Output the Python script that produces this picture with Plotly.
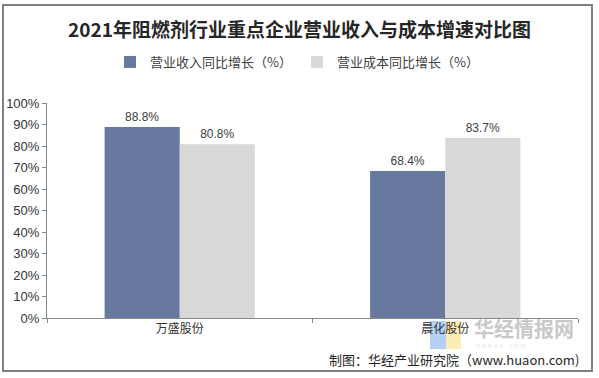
import plotly.graph_objects as go

categories = ["万盛股份", "晨化股份"]
series_names = ["营业收入同比增长（%）", "营业成本同比增长（%）"]
revenue_growth = [88.8, 68.4]
cost_growth = [80.8, 83.7]
y_ticks = [0, 10, 20, 30, 40, 50, 60, 70, 80, 90, 100]
y_tick_labels = [f"{v}%" for v in y_ticks]

W, H = 599, 378
L, R, T, B = 47, 21, 103, 60
pw, ph = W - L - R, H - T - B

def px_x(x):
    return (x - L) / pw

def px_y(y):
    return (H - B - y) / ph

FONT = "Arial, 'Liberation Sans', 'Noto Sans CJK SC', sans-serif"
CJK = "'Noto Sans CJK SC', sans-serif"

fig = go.Figure()
fig.add_trace(go.Bar(
    name=series_names[0], x=categories, y=revenue_growth,
    marker=dict(color="#67799F", line=dict(width=0)),
    text=[f"{v:.1f}%" for v in revenue_growth], textposition="outside",
    textfont=dict(size=12, color="#404040", family=FONT), cliponaxis=False,
))
fig.add_trace(go.Bar(
    name=series_names[1], x=categories, y=cost_growth,
    marker=dict(color="#D9D9D9", line=dict(width=0)),
    text=[f"{v:.1f}%" for v in cost_growth], textposition="outside",
    textfont=dict(size=12, color="#404040", family=FONT), cliponaxis=False,
))

fig.update_layout(
    width=W, height=H,
    margin=dict(l=L, r=R, t=T, b=B, pad=0, autoexpand=False),
    paper_bgcolor="white", plot_bgcolor="white",
    barmode="group", bargap=0.434, bargroupgap=0,
    font=dict(family=FONT, size=12, color="#333333"),
    title=dict(
        text="<b>2021年阻燃剂行业重点企业营业收入与成本增速对比图</b>",
        x=0.5, xref="container", xanchor="center",
        y=1 - 30 / H, yref="container", yanchor="middle",
        font=dict(family=CJK, size=19, color="#262626"),
    ),
    legend=dict(
        orientation="h", x=px_x(297), xanchor="center", y=px_y(62), yanchor="middle",
        font=dict(family=CJK, size=13, color="#404040"),
        itemwidth=30, traceorder="normal", bgcolor="rgba(0,0,0,0)",
    ),
    xaxis=dict(
        automargin=False,
        showline=True, linecolor="#868686", linewidth=1,
        ticks="outside", tickson="boundaries", ticklen=4, tickcolor="#868686",
        tickfont=dict(size=12, color="#333333", family=CJK),
        showgrid=False, zeroline=False,
    ),
    yaxis=dict(
        automargin=False,
        range=[0, 100], tickvals=y_ticks, ticktext=y_tick_labels,
        showline=True, linecolor="#868686", linewidth=1,
        ticks="outside", ticklen=4, tickcolor="#868686",
        tickfont=dict(size=13, color="#333333", family=FONT),
        showgrid=False, zeroline=False,
    ),
    shapes=[
        dict(type="rect", xref="paper", yref="paper",
             x0=px_x(3), x1=px_x(592), y0=px_y(5), y1=px_y(371),
             line=dict(color="#7F7F7F", width=2), fillcolor="rgba(0,0,0,0)", layer="below"),
        dict(type="rect", xref="paper", yref="paper",
             x0=px_x(430), x1=px_x(446), y0=px_y(349), y1=px_y(321),
             line=dict(width=0), fillcolor="rgba(120,170,240,0.55)", layer="below"),
        dict(type="rect", xref="paper", yref="paper",
             x0=px_x(446), x1=px_x(461), y0=px_y(349), y1=px_y(321),
             line=dict(width=0), fillcolor="rgba(250,220,120,0.55)", layer="below"),
    ],
    annotations=[
        dict(text="<b>华经情报网</b>", xref="paper", yref="paper",
             x=px_x(472), y=px_y(328), xanchor="left", yanchor="middle", showarrow=False,
             font=dict(family=CJK, size=20, color="#C8C8C8")),
        dict(text="h u a o n . c o m", xref="paper", yref="paper",
             x=px_x(474), y=px_y(345), xanchor="left", yanchor="middle", showarrow=False,
             font=dict(family=FONT, size=7, color="#E6E6E6")),
        dict(text="制图：华经产业研究院（www.huaon.com)", xref="paper", yref="paper",
             x=px_x(581), y=px_y(359), xanchor="right", yanchor="middle", showarrow=False,
             font=dict(family=CJK, size=13, color="#262626")),
    ],
)

fig.write_html("out.html", config={"displayModeBar": False})

with open("out.html", "r", encoding="utf-8") as f:
    html = f.read()
html = html.replace("<head>", "<head><style>html,body{margin:0;padding:0;overflow:hidden;}</style>", 1)
with open("out.html", "w", encoding="utf-8") as f:
    f.write(html)
